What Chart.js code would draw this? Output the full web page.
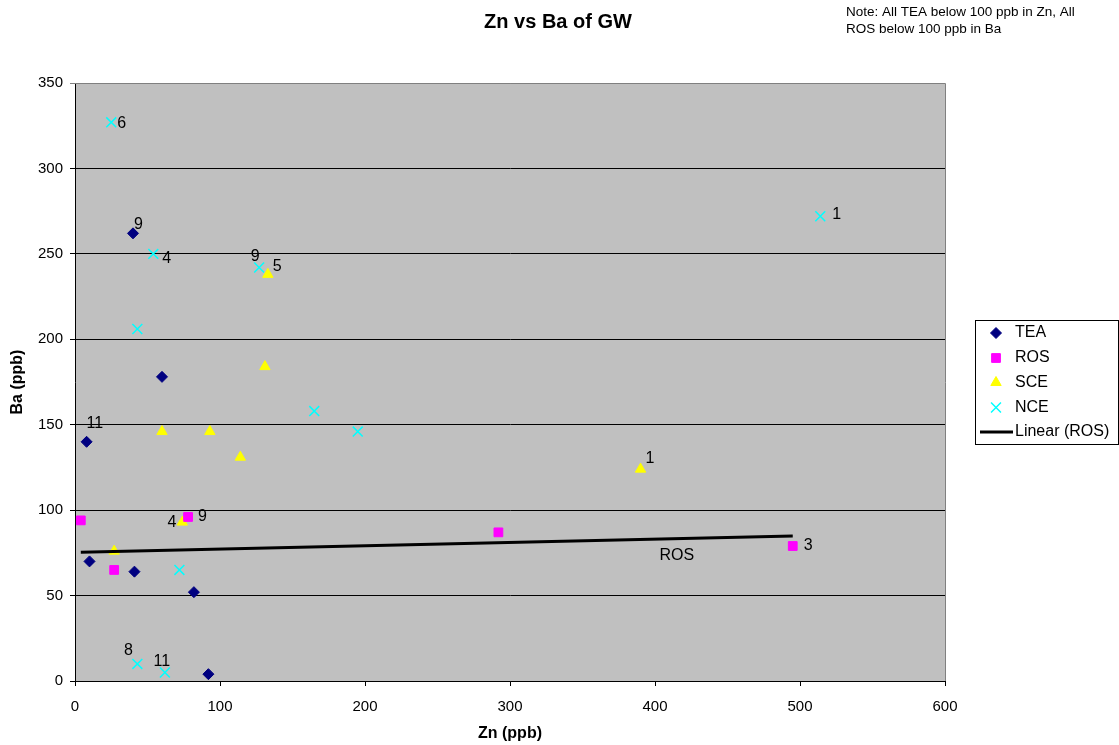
<!DOCTYPE html>
<html>
<head>
<meta charset="utf-8">
<script src="https://cdn.jsdelivr.net/npm/chart.js@4.4.0/dist/chart.umd.min.js"></script>
<style>
  body { margin: 0; background: #fff; }
  canvas { display: block; }
</style>
</head>
<body>
<canvas id="chart" width="1119" height="745"></canvas>
<script>
// Zn (x) / Ba (y) in ppb
const teaZn = [40, 60, 8, 10, 41, 82, 92];
const teaBa = [262, 178, 140, 70, 64, 52, 4];
const teaLabels = ['9', '', '11', '', '', '', ''];

const rosZn = [4, 27, 78, 292, 495];
const rosBa = [94, 65, 96, 87, 79];
const rosLabels = ['', '', '9', '', '3'];

const sceZn = [133, 131, 60, 93, 114, 74, 27, 390];
const sceBa = [238, 184, 146, 146, 131, 93, 76, 124];
const sceLabels = ['5', '', '', '', '', '4', '', '1'];

const nceZn = [25, 54, 127, 43, 165, 195, 72, 43, 62, 514];
const nceBa = [327, 250, 242, 206, 158, 146, 65, 10, 5, 272];
const nceLabels = ['6', '4', '9', '', '', '', '', '8', '11', '1'];

// linear trend of ROS as drawn (end points)
const trendZn = [4, 495];
const trendBa = [75.3, 84.8];

const xTicks = [0, 100, 200, 300, 400, 500, 600];
const yTicks = [0, 50, 100, 150, 200, 250, 300, 350];

const FONT = '"Liberation Sans", Arial, sans-serif';
Chart.defaults.font.family = FONT;
Chart.defaults.color = '#000';

// where each point label sits relative to its marker: [dx, dy, align]
const labelPlace = {
  TEA: { 0: [1, -9, 'left'], 2: [0, -18, 'left'] },
  ROS: { 2: [10, 0, 'left'], 4: [11, 0, 'left'] },
  SCE: { 0: [5, -8, 'left'], 5: [-6, 0, 'right'], 7: [5, -11, 'left'] },
  NCE: { 0: [6, 1, 'left'], 1: [9, 5, 'left'], 2: [-4, -11, 'center'], 7: [-9, -13, 'center'],
         8: [-3, -11, 'center'], 9: [12, -2, 'left'] }
};

function pts(xs, ys) {
  return xs.map((x, i) => ({ x: x, y: ys[i] }));
}

const decor = {
  id: 'decor',
  beforeDraw(chart) {
    const { ctx, chartArea: a } = chart;
    ctx.save();
    ctx.fillStyle = '#C0C0C0';
    ctx.fillRect(a.left, a.top, a.right - a.left, a.bottom - a.top);
    ctx.restore();
  },
  afterDatasetsDraw(chart) {
    const ctx = chart.ctx;
    ctx.save();
    ctx.font = '16px ' + FONT;
    ctx.fillStyle = '#000';
    ctx.textBaseline = 'middle';
    chart.data.datasets.forEach((ds, di) => {
      if (!ds.pointLabels) return;
      const meta = chart.getDatasetMeta(di);
      const place = labelPlace[ds.label] || {};
      ds.pointLabels.forEach((txt, i) => {
        if (!txt) return;
        const el = meta.data[i];
        const p = place[i] || [6, 0, 'left'];
        ctx.textAlign = p[2];
        ctx.fillText(txt, el.x + p[0], el.y + p[1]);
      });
    });
    // label on the trend line
    const tm = chart.getDatasetMeta(4).data;
    const xs = chart.scales.x;
    const tx = xs.getPixelForValue(415);
    const t = (tx - tm[0].x) / (tm[1].x - tm[0].x);
    const ty = tm[0].y + t * (tm[1].y - tm[0].y);
    ctx.textAlign = 'center';
    ctx.fillText('ROS', tx, ty + 17);
    ctx.restore();
  },
  afterDraw(chart) {
    const { ctx, chartArea: a } = chart;
    ctx.save();
    // grey frame on top and right
    ctx.strokeStyle = '#808080';
    ctx.lineWidth = 1;
    ctx.beginPath();
    ctx.moveTo(a.left, a.top + 0.5);
    ctx.lineTo(a.right + 0.5, a.top + 0.5);
    ctx.lineTo(a.right + 0.5, a.bottom);
    ctx.stroke();

    // title and note
    ctx.fillStyle = '#000';
    ctx.textBaseline = 'middle';
    ctx.textAlign = 'center';
    ctx.font = 'bold 20px ' + FONT;
    ctx.fillText('Zn vs Ba of GW', 558, 22);
    ctx.textAlign = 'left';
    ctx.font = '13.5px ' + FONT;
    ctx.fillText('Note: All TEA below 100 ppb in Zn, All', 846, 12);
    ctx.fillText('ROS below 100 ppb in Ba', 846, 29);

    // legend
    ctx.strokeStyle = '#000';
    ctx.strokeRect(975.5, 320.5, 143, 124);
    const rows = [333, 358, 382.5, 407.5];
    ctx.font = '16px ' + FONT;
    chart.data.datasets.forEach((ds, di) => {
      if (di > 3) return;
      ctx.fillStyle = ds.backgroundColor;
      ctx.strokeStyle = ds.borderColor;
      ctx.lineWidth = ds.borderWidth;
      Chart.helpers.drawPoint(ctx, {
        pointStyle: ds.pointStyle, radius: ds.pointRadius, rotation: 0, borderWidth: ds.borderWidth
      }, 996, rows[di]);
      ctx.fillStyle = '#000';
      ctx.fillText(ds.label, 1015, rows[di]);
    });
    ctx.strokeStyle = '#000';
    ctx.lineWidth = 3;
    ctx.beginPath();
    ctx.moveTo(980, 432);
    ctx.lineTo(1013, 432);
    ctx.stroke();
    ctx.fillText('Linear (ROS)', 1015, 432);
    ctx.restore();
  }
};

new Chart(document.getElementById('chart'), {
  type: 'scatter',
  data: {
    datasets: [
      {
        label: 'TEA', data: pts(teaZn, teaBa), pointLabels: teaLabels,
        pointStyle: 'rectRot', pointRadius: 5.5, backgroundColor: '#000080',
        borderColor: '#000080', borderWidth: 1, order: 4
      },
      {
        label: 'ROS', data: pts(rosZn, rosBa), pointLabels: rosLabels,
        pointStyle: 'rect', pointRadius: 6.2, backgroundColor: '#FF00FF',
        borderColor: '#FF00FF', borderWidth: 1, order: 2
      },
      {
        label: 'SCE', data: pts(sceZn, sceBa), pointLabels: sceLabels,
        pointStyle: 'triangle', pointRadius: 6, backgroundColor: '#FFFF00',
        borderColor: '#FFFF00', borderWidth: 1, order: 3
      },
      {
        label: 'NCE', data: pts(nceZn, nceBa), pointLabels: nceLabels,
        pointStyle: 'crossRot', pointRadius: 7, backgroundColor: '#00FFFF',
        borderColor: '#00FFFF', borderWidth: 1.5, order: 1
      },
      {
        label: 'Linear (ROS)', type: 'line', data: pts(trendZn, trendBa),
        borderColor: '#000', borderWidth: 3, pointRadius: 0, fill: false, order: 0
      }
    ]
  },
  options: {
    responsive: false,
    animation: false,
    layout: { padding: { top: 83, right: 174, left: 0, bottom: 0 } },
    plugins: {
      legend: { display: false },
      title: { display: false },
      tooltip: { enabled: false }
    },
    scales: {
      x: {
        type: 'linear', min: 0, max: 600,
        afterBuildTicks(scale) { scale.ticks = xTicks.map(v => ({ value: v })); },
        afterFit(scale) { scale.height = 64; },
        ticks: { font: { size: 15 }, color: '#000', padding: 12, maxRotation: 0 },
        grid: { drawOnChartArea: false, color: '#000', tickLength: 5 },
        border: { color: '#000', width: 1 },
        title: { display: true, text: 'Zn (ppb)', font: { size: 16, weight: 'bold' }, padding: { top: 0, bottom: 2 } }
      },
      y: {
        type: 'linear', min: 0, max: 350,
        afterBuildTicks(scale) { scale.ticks = yTicks.map(v => ({ value: v })); },
        afterFit(scale) { scale.width = 75; },
        ticks: { font: { size: 15 }, color: '#000', padding: 7 },
        grid: {
          color: c => (c.tick && c.tick.value === 350 ? '#808080' : '#000'),
          tickLength: 5
        },
        border: { color: '#000', width: 1 },
        title: { display: true, text: 'Ba (ppb)', font: { size: 16, weight: 'bold' }, padding: { top: 8, bottom: 0 } }
      }
    }
  },
  plugins: [decor]
});
</script>
</body>
</html>
